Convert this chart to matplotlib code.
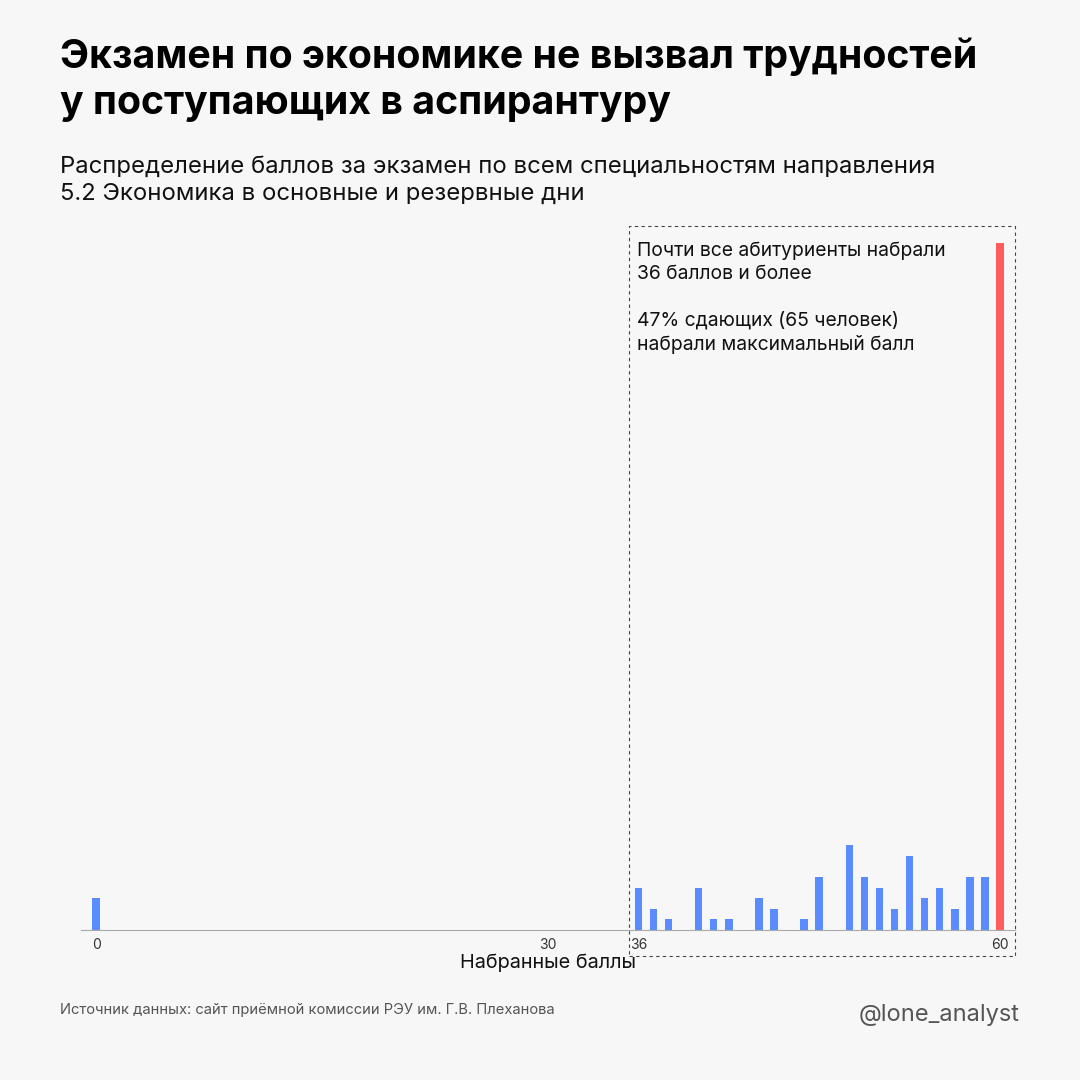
import matplotlib
matplotlib.use("Agg")
import matplotlib.pyplot as plt
from matplotlib.patches import Rectangle

plt.rcParams['font.family'] = ['Inter', 'DejaVu Sans']

scores = [0] + list(range(36, 61))
counts = [3, 4, 2, 1, 0, 4, 1, 1, 0, 3, 2, 0, 1, 5, 0, 8, 5, 4, 2, 7, 3, 4, 2, 5, 5, 65]
ticks = [0, 30, 36, 60]

W = 1080
fig = plt.figure(figsize=(10.8, 10.8), dpi=100)
fig.patch.set_facecolor('#f7f7f7')

def fx(px): return px / W
def fy(py): return 1 - py / W

left, right = 81, 1015
top, base = 232, 930
ax = fig.add_axes([fx(left), fy(base), fx(right - left), (base - top) / W])
ax.set_facecolor('none')
colors = ['#ff5c5c' if s == 60 else '#5b8cff' for s in scores]
ax.bar(scores, counts, width=0.5, color=colors)
ax.set_xlim(-1, 61)
ax.set_ylim(0, 66)
for s in ['top', 'right', 'left']:
    ax.spines[s].set_visible(False)
ax.spines['bottom'].set_color('#aaaaaa')
ax.set_yticks([])
ax.set_xticks(ticks)
ax.set_xticklabels([str(t) for t in ticks], fontsize=10, color='#333333')
ax.tick_params(axis='x', length=0, pad=6)
ax.set_xlabel('Набранные баллы', fontsize=14.3, color='#111111', labelpad=1)

fig.patches.append(Rectangle((fx(629), fy(956)), fx(1015 - 629), (956 - 226) / W,
                             transform=fig.transFigure, fill=False, ls=(0, (3, 3)),
                             lw=0.8, ec='#444444'))

fig.text(fx(60), fy(80), 'Экзамен по экономике не вызвал трудностей\nу поступающих в аспирантуру',
         fontsize=28.3, fontweight='bold', va='center', ha='left', linespacing=1.3, color='#000000')
fig.text(fx(60), fy(180), 'Распределение баллов за экзамен по всем специальностям направления\n5.2 Экономика в основные и резервные дни',
         fontsize=17.2, va='center', ha='left', linespacing=1.3, color='#111111')
fig.text(fx(637), fy(298), 'Почти все абитуриенты набрали\n36 баллов и более\n\n47% сдающих (65 человек)\nнабрали максимальный балл',
         fontsize=13.9, va='center', ha='left', linespacing=1.35, color='#111111')
fig.text(fx(60), fy(1010), 'Источник данных: сайт приёмной комиссии РЭУ им. Г.В. Плеханова',
         fontsize=10.6, va='center', ha='left', color='#555555')
fig.text(fx(1020), fy(1015), '@lone_analyst', fontsize=17, va='center', ha='right', color='#555555')

fig.savefig('out.png', dpi=100, facecolor=fig.get_facecolor())
